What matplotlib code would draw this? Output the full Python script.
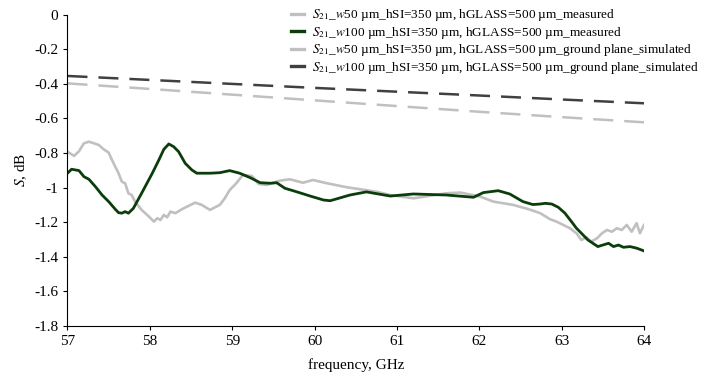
"""S21 of microstrip lines on glass/Si: measured vs simulated."""
import matplotlib
matplotlib.use("Agg")
import matplotlib.pyplot as plt

plt.rcParams["font.family"] = ["Liberation Serif", "DejaVu Serif"]
plt.rcParams["mathtext.fontset"] = "stix"
plt.rcParams["axes.unicode_minus"] = False

# w50 measured
f_w50_meas = [57.0, 57.08, 57.14, 57.20, 57.26, 57.32, 57.38, 57.44, 57.50, 57.54,
              57.58, 57.62, 57.66, 57.70, 57.74, 57.78, 57.82, 57.90, 57.99, 58.05,
              58.09, 58.13, 58.17, 58.21, 58.25, 58.31, 58.39, 58.47, 58.55, 58.63,
              58.73, 58.85, 58.91, 58.97, 59.05, 59.13, 59.24, 59.32, 59.42, 59.58,
              59.70, 59.86, 59.98, 60.15, 60.39, 60.75, 60.92, 61.20, 61.60, 61.77,
              62.01, 62.17, 62.41, 62.60, 62.74, 62.86, 62.94, 63.02, 63.10, 63.18,
              63.24, 63.30, 63.36, 63.43, 63.49, 63.55, 63.61, 63.67, 63.73, 63.79,
              63.85, 63.91, 63.95, 64.0]
s_w50_meas = [-0.793, -0.817, -0.790, -0.744, -0.735, -0.744, -0.754, -0.779, -0.798, -0.840,
              -0.879, -0.917, -0.966, -0.975, -1.033, -1.043, -1.081, -1.129, -1.168, -1.197,
              -1.177, -1.187, -1.158, -1.172, -1.139, -1.148, -1.125, -1.106, -1.087, -1.100,
              -1.129, -1.100, -1.062, -1.014, -0.975, -0.927, -0.933, -0.979, -0.985, -0.960,
              -0.952, -0.972, -0.956, -0.975, -0.998, -1.024, -1.043, -1.062, -1.033, -1.029,
              -1.052, -1.081, -1.100, -1.125, -1.148, -1.183, -1.197, -1.216, -1.235, -1.264,
              -1.303, -1.287, -1.312, -1.293, -1.264, -1.245, -1.255, -1.235, -1.245, -1.216,
              -1.255, -1.206, -1.264, -1.216]

# w100 measured
f_w100_meas = [57.0, 57.05, 57.14, 57.20, 57.26, 57.34, 57.42, 57.50, 57.58, 57.62,
               57.66, 57.70, 57.74, 57.80, 57.90, 58.03, 58.11, 58.17, 58.23, 58.29,
               58.35, 58.43, 58.51, 58.57, 58.73, 58.85, 58.97, 59.09, 59.22, 59.34,
               59.46, 59.54, 59.64, 59.78, 59.94, 60.11, 60.19, 60.43, 60.63, 60.92,
               61.20, 61.60, 61.93, 62.05, 62.23, 62.37, 62.53, 62.65, 62.74, 62.80,
               62.88, 62.96, 63.04, 63.12, 63.18, 63.24, 63.32, 63.38, 63.44, 63.50,
               63.57, 63.63, 63.69, 63.75, 63.83, 63.91, 64.0]
s_w100_meas = [-0.917, -0.894, -0.902, -0.937, -0.952, -0.995, -1.043, -1.081, -1.125, -1.145,
               -1.148, -1.139, -1.148, -1.120, -1.033, -0.917, -0.840, -0.779, -0.748, -0.764,
               -0.793, -0.860, -0.898, -0.917, -0.917, -0.914, -0.902, -0.917, -0.943, -0.972,
               -0.975, -0.972, -1.004, -1.024, -1.048, -1.072, -1.076, -1.043, -1.025, -1.049,
               -1.037, -1.043, -1.056, -1.029, -1.018, -1.037, -1.081, -1.098, -1.095, -1.091,
               -1.095, -1.114, -1.148, -1.197, -1.235, -1.264, -1.303, -1.322, -1.341, -1.332,
               -1.322, -1.341, -1.332, -1.345, -1.341, -1.350, -1.366]

# simulated (ground plane)
f_sim = [57, 58, 59, 60, 61, 62, 63, 64]
s_w50_sim = [-0.398, -0.430, -0.463, -0.496, -0.529, -0.562, -0.593, -0.623]
s_w100_sim = [-0.355, -0.378, -0.401, -0.424, -0.446, -0.468, -0.491, -0.513]

labels = [
    r"$S_{21}$_$w$50 µm_hSI=350 µm, hGLASS=500 µm_measured",
    r"$S_{21}$_$w$100 µm_hSI=350 µm, hGLASS=500 µm_measured",
    r"$S_{21}$_$w$50 µm_hSI=350 µm, hGLASS=500 µm_ground plane_simulated",
    r"$S_{21}$_$w$100 µm_hSI=350 µm, hGLASS=500 µm_ground plane_simulated",
]
yticks = [0, -0.2, -0.4, -0.6, -0.8, -1, -1.2, -1.4, -1.6, -1.8]
ytick_labels = ["0", "-0.2", "-0.4", "-0.6", "-0.8", "-1", "-1.2", "-1.4", "-1.6", "-1.8"]
xticks = [57, 58, 59, 60, 61, 62, 63, 64]


fig = plt.figure(figsize=(7.24, 3.79), dpi=100)
ax = fig.add_axes([0.0932, 0.1398, 0.7963, 0.8219])

h1, = ax.plot(f_w50_meas, s_w50_meas, color="#c0c0c0", lw=1.9)
h2, = ax.plot(f_w100_meas, s_w100_meas, color="#0b3d0b", lw=2.0)
h3, = ax.plot(f_sim, s_w50_sim, color="#c0c0c0", lw=1.8, dashes=(8, 4.4))
h4, = ax.plot(f_sim, s_w100_sim, color="#404040", lw=1.8, dashes=(8, 4.4))

ax.set_xlim(57, 64)
ax.set_ylim(-1.8, 0)
ax.set_xticks(xticks)
ax.set_yticks(yticks)
ax.set_yticklabels(ytick_labels)
ax.tick_params(direction="out", length=3, width=0.8, labelsize=11, colors="black")
ax.spines["top"].set_visible(False)
ax.spines["right"].set_visible(False)
ax.set_xlabel("frequency, GHz", fontsize=11, labelpad=7)
ax.set_ylabel(r"$S$, dB", fontsize=11, labelpad=4)

handles = [h1, h2, h3, h4]
leg_handles = [plt.Line2D([], [], color=h.get_color(), lw=2.4) for h in handles]
fig.legend(leg_handles, labels, loc="upper left", bbox_to_anchor=(0.395, 0.995),
           frameon=False, fontsize=9.5, handlelength=1.0, handletextpad=0.6,
           labelspacing=0.12, borderaxespad=0)

fig.savefig("out.png", dpi=100)
